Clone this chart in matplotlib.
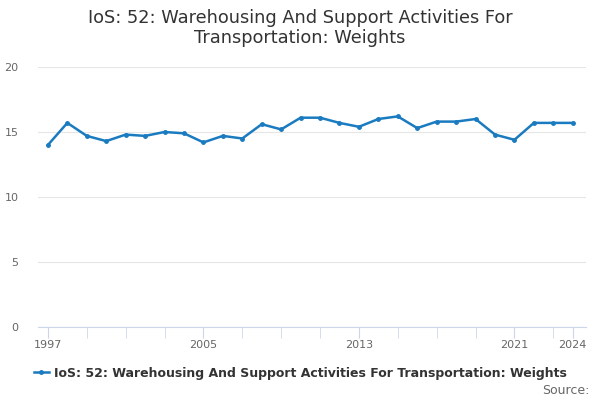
import matplotlib
matplotlib.use("Agg")
import matplotlib.pyplot as plt

years = list(range(1997, 2025))
values = [14.0, 15.7, 14.7, 14.3, 14.8, 14.7, 15.0, 14.9, 14.2, 14.7, 14.5, 15.6, 15.2,
          16.1, 16.1, 15.7, 15.4, 16.0, 16.2, 15.3, 15.8, 15.8, 16.0, 14.8, 14.4, 15.7,
          15.7, 15.7]
label_years = [1997, 2005, 2013, 2021, 2024]
yticks = [0, 5, 10, 15, 20]
title = "IoS: 52: Warehousing And Support Activities For\nTransportation: Weights"
series_name = "IoS: 52: Warehousing And Support Activities For Transportation: Weights"

fig = plt.figure(figsize=(6, 4), dpi=100)
ax = fig.add_axes([0.0633, 0.1825, 0.913, 0.65])
color = "#1a7bc0"
ax.plot(years, values, color=color, lw=1.8, marker="o", ms=2.5, label=series_name, zorder=3)

ax.set_xlim(1996.49, 2024.67)
ax.set_ylim(0, 20)
ax.set_yticks(yticks)
ax.set_yticklabels([str(v) for v in yticks])
ax.grid(axis="y", color="#e6e6e6", lw=0.8)
ax.set_axisbelow(True)

minor = list(range(1997, 2024, 2)) + [2024]
ax.set_xticks(minor, minor=True)
ax.set_xticks(label_years)
ax.set_xticklabels([str(y) for y in label_years])
ax.tick_params(axis="x", which="both", length=8, color="#ccd6eb", labelsize=8, labelcolor="#666666", pad=1)
ax.tick_params(axis="y", length=0, labelsize=8, labelcolor="#666666", pad=14)
for lbl in ax.get_yticklabels():
    lbl.set_horizontalalignment("right")
for s in ["top", "right", "left"]:
    ax.spines[s].set_visible(False)
ax.spines["bottom"].set_color("#ccd6eb")

fig.text(0.5, 0.93, title, ha="center", va="center", fontsize=12.8, color="#333333", linespacing=1.1)
leg = fig.legend(loc="center", bbox_to_anchor=(0.5, 0.067), frameon=False, handlelength=1.2,
                 handletextpad=0.4, prop={"weight": "bold", "size": 9})
for t in leg.get_texts():
    t.set_color("#333333")
fig.text(0.982, 0.025, "Source:", ha="right", va="center", fontsize=9, color="#666666")

fig.savefig("out.png", dpi=100)
